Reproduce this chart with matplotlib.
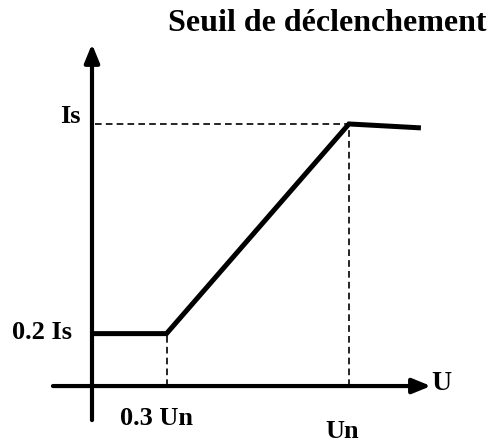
import matplotlib
matplotlib.use("Agg")
import matplotlib.pyplot as plt

# seuil de déclenchement : courant de seuil en fonction de la tension
u_points = [0.0, 0.29, 1.0, 1.28]      # en Un
i_points = [0.2, 0.2, 1.0, 0.985]      # en Is

u_knee = 0.29
u_nom = 1.0
i_low = 0.2
i_nom = 1.0

plt.rcParams["font.family"] = ["Liberation Serif", "DejaVu Serif"]
plt.rcParams["font.weight"] = "bold"

fig = plt.figure(figsize=(4.89, 4.45), dpi=100)
ax = fig.add_axes([0, 0, 1, 1])
ax.set_xlim(-0.358, 1.545)
ax.set_ylim(-0.225, 1.473)
ax.axis("off")

# axes with arrows
arrow = dict(arrowstyle="-|>,head_length=1.1,head_width=0.45", lw=3,
             color="black", mutation_scale=10, shrinkA=0, shrinkB=0)
ax.annotate("", xy=(0, 1.305), xytext=(0, -0.13), arrowprops=arrow)
ax.annotate("", xy=(1.319, 0), xytext=(-0.152, 0), arrowprops=arrow)

# dashed guides
dash = dict(color="black", lw=1.2, ls=(0, (4, 2.5)))
ax.plot([0.01, u_nom], [i_nom, i_nom], **dash)
ax.plot([u_knee, u_knee], [0, i_low], **dash)
ax.plot([u_nom, u_nom], [0, i_nom], **dash)

# characteristic
ax.plot(u_points, i_points, color="black", lw=3.6, solid_capstyle="butt",
        solid_joinstyle="miter")

fs = 19
ax.text(-0.045, 1.03, "Is", fontsize=fs, fontweight="bold", ha="right", va="center")
ax.text(-0.078, 0.205, "0.2 Is", fontsize=fs, fontweight="bold", ha="right", va="center")
ax.text(0.25, -0.125, "0.3 Un", fontsize=fs, fontweight="bold", ha="center", va="center")
ax.text(0.975, -0.175, "Un", fontsize=fs, fontweight="bold", ha="center", va="center")
ax.text(1.36, 0.01, "U", fontsize=20, fontweight="bold", ha="center", va="center")
ax.text(1.535, 1.382, "Seuil de déclenchement", fontsize=23, fontweight="bold",
        ha="right", va="center")

fig.savefig("out.png", dpi=100)
